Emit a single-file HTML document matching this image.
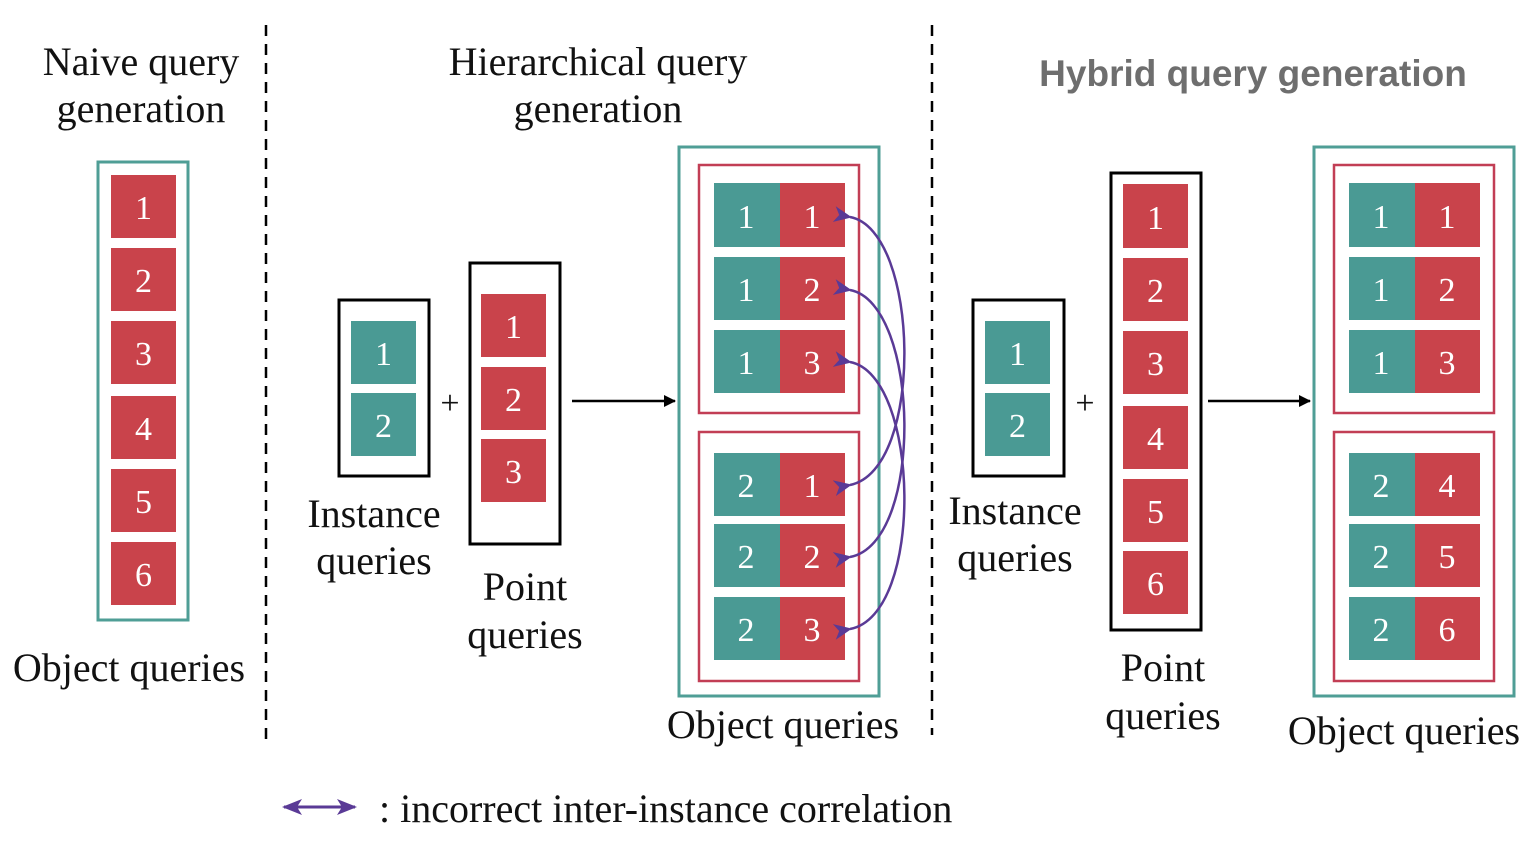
<!DOCTYPE html>
<html><head><meta charset="utf-8"><style>
html,body{margin:0;padding:0;background:#fff;}
svg{display:block;}
.t{font-family:"Liberation Serif",serif;font-size:40px;fill:#111;}
.n{font-family:"Liberation Serif",serif;font-size:34px;fill:#fff;text-anchor:middle;}
</style></head><body>
<svg width="1534" height="844" viewBox="0 0 1534 844" xmlns="http://www.w3.org/2000/svg">
<defs>
<marker id="ah" markerWidth="12" markerHeight="12" refX="11" refY="6" orient="auto" markerUnits="userSpaceOnUse"><path d="M0,0 L12,6 L0,12 Z" fill="#000"/></marker>
<marker id="ap" markerWidth="18" markerHeight="16" refX="2" refY="8" orient="auto-start-reverse" markerUnits="userSpaceOnUse"><path d="M18,0 L0,8 L18,16 L13,8 Z" fill="#5a3a96"/></marker>
<marker id="aq" markerWidth="20" markerHeight="16" refX="18" refY="8" orient="auto-start-reverse" markerUnits="userSpaceOnUse"><path d="M0,0 L20,8 L0,16 L5,8 Z" fill="#5a3a96"/></marker>
</defs>

<line x1="266" y1="25" x2="266" y2="745" stroke="#000" stroke-width="2.5" stroke-dasharray="11,8"/>
<line x1="932" y1="25" x2="932" y2="735" stroke="#000" stroke-width="2.5" stroke-dasharray="11,8"/>

<text class="t" x="141" y="75" text-anchor="middle">Naive query</text>
<text class="t" x="141" y="122" text-anchor="middle">generation</text>
<text class="t" x="598" y="75" text-anchor="middle">Hierarchical query</text>
<text class="t" x="598" y="122" text-anchor="middle">generation</text>
<text x="1253" y="86" text-anchor="middle" style="font-family:'Liberation Sans',sans-serif;font-weight:bold;font-size:37px;fill:#6e6e6e">Hybrid query generation</text>

<rect x="98" y="162" width="90" height="458" fill="none" stroke="#4f9e96" stroke-width="3"/>
<g fill="#c9434b">
<rect x="111" y="175" width="65" height="63"/><rect x="111" y="248" width="65" height="63"/>
<rect x="111" y="321" width="65" height="63"/><rect x="111" y="396" width="65" height="63"/>
<rect x="111" y="469" width="65" height="63"/><rect x="111" y="542" width="65" height="63"/>
</g>
<text class="n" x="143.5" y="219">1</text><text class="n" x="143.5" y="292">2</text>
<text class="n" x="143.5" y="365">3</text><text class="n" x="143.5" y="440">4</text>
<text class="n" x="143.5" y="513">5</text><text class="n" x="143.5" y="586">6</text>
<text class="t" x="129" y="681" text-anchor="middle">Object queries</text>

<rect x="339" y="300" width="90" height="176" fill="none" stroke="#000" stroke-width="3"/>
<rect x="351" y="321" width="65" height="63" fill="#4a9a94"/><rect x="351" y="393" width="65" height="63" fill="#4a9a94"/>
<text class="n" x="383.5" y="365">1</text><text class="n" x="383.5" y="437">2</text>
<text class="t" x="450" y="414" text-anchor="middle" style="font-size:34px">+</text>
<text class="t" x="374" y="527" text-anchor="middle">Instance</text>
<text class="t" x="374" y="574" text-anchor="middle">queries</text>
<rect x="470" y="263" width="90" height="281" fill="none" stroke="#000" stroke-width="3"/>
<rect x="481" y="294" width="65" height="63" fill="#c9434b"/><rect x="481" y="367" width="65" height="63" fill="#c9434b"/><rect x="481" y="439" width="65" height="63" fill="#c9434b"/>
<text class="n" x="513.5" y="338">1</text><text class="n" x="513.5" y="411">2</text><text class="n" x="513.5" y="483">3</text>
<text class="t" x="525" y="600" text-anchor="middle">Point</text>
<text class="t" x="525" y="648" text-anchor="middle">queries</text>
<line x1="572" y1="401" x2="675" y2="401" stroke="#000" stroke-width="2.5" marker-end="url(#ah)"/>

<rect x="679" y="147" width="200" height="549" fill="none" stroke="#4f9e96" stroke-width="3"/>
<rect x="699" y="165" width="160" height="248" fill="none" stroke="#c23e55" stroke-width="2.5"/>
<rect x="699" y="432" width="160" height="249" fill="none" stroke="#c23e55" stroke-width="2.5"/>
<g>
<rect x="714" y="183" width="66" height="64" fill="#4a9a94"/><rect x="780" y="183" width="65" height="64" fill="#c9434b"/>
<rect x="714" y="257" width="66" height="63" fill="#4a9a94"/><rect x="780" y="257" width="65" height="63" fill="#c9434b"/>
<rect x="714" y="330" width="66" height="63" fill="#4a9a94"/><rect x="780" y="330" width="65" height="63" fill="#c9434b"/>
<rect x="714" y="453" width="66" height="63" fill="#4a9a94"/><rect x="780" y="453" width="65" height="63" fill="#c9434b"/>
<rect x="714" y="524" width="66" height="63" fill="#4a9a94"/><rect x="780" y="524" width="65" height="63" fill="#c9434b"/>
<rect x="714" y="597" width="66" height="63" fill="#4a9a94"/><rect x="780" y="597" width="65" height="63" fill="#c9434b"/>
</g>
<text class="n" x="746" y="228">1</text><text class="n" x="812" y="228">1</text>
<text class="n" x="746" y="301">1</text><text class="n" x="812" y="301">2</text>
<text class="n" x="746" y="374">1</text><text class="n" x="812" y="374">3</text>
<text class="n" x="746" y="497">2</text><text class="n" x="812" y="497">1</text>
<text class="n" x="746" y="568">2</text><text class="n" x="812" y="568">2</text>
<text class="n" x="746" y="641">2</text><text class="n" x="812" y="641">3</text>
<g fill="none" stroke="#5a3a96" stroke-width="2.5">
<path d="M850,217 C920,230 925,470 850,485" marker-start="url(#ap)" marker-end="url(#ap)"/>
<path d="M850,290 C920,303 925,543 850,557" marker-start="url(#ap)" marker-end="url(#ap)"/>
<path d="M850,362 C920,375 925,615 850,629" marker-start="url(#ap)" marker-end="url(#ap)"/>
</g>
<text class="t" x="783" y="738" text-anchor="middle">Object queries</text>

<rect x="973" y="300" width="91" height="176" fill="none" stroke="#000" stroke-width="3"/>
<rect x="985" y="321" width="65" height="63" fill="#4a9a94"/><rect x="985" y="393" width="65" height="63" fill="#4a9a94"/>
<text class="n" x="1017.5" y="365">1</text><text class="n" x="1017.5" y="437">2</text>
<text class="t" x="1085" y="414" text-anchor="middle" style="font-size:34px">+</text>
<text class="t" x="1015" y="524" text-anchor="middle">Instance</text>
<text class="t" x="1015" y="571" text-anchor="middle">queries</text>
<rect x="1111" y="173" width="90" height="457" fill="none" stroke="#000" stroke-width="3"/>
<g fill="#c9434b">
<rect x="1123" y="184" width="65" height="64"/><rect x="1123" y="258" width="65" height="63"/>
<rect x="1123" y="331" width="65" height="63"/><rect x="1123" y="406" width="65" height="63"/>
<rect x="1123" y="479" width="65" height="63"/><rect x="1123" y="551" width="65" height="63"/>
</g>
<text class="n" x="1155.5" y="229">1</text><text class="n" x="1155.5" y="302">2</text>
<text class="n" x="1155.5" y="375">3</text><text class="n" x="1155.5" y="450">4</text>
<text class="n" x="1155.5" y="523">5</text><text class="n" x="1155.5" y="595">6</text>
<text class="t" x="1163" y="681" text-anchor="middle">Point</text>
<text class="t" x="1163" y="729" text-anchor="middle">queries</text>
<line x1="1208" y1="401" x2="1310" y2="401" stroke="#000" stroke-width="2.5" marker-end="url(#ah)"/>

<rect x="1314" y="147" width="200" height="549" fill="none" stroke="#4f9e96" stroke-width="3"/>
<rect x="1334" y="165" width="160" height="248" fill="none" stroke="#c23e55" stroke-width="2.5"/>
<rect x="1334" y="432" width="160" height="249" fill="none" stroke="#c23e55" stroke-width="2.5"/>
<g>
<rect x="1349" y="183" width="66" height="64" fill="#4a9a94"/><rect x="1415" y="183" width="65" height="64" fill="#c9434b"/>
<rect x="1349" y="257" width="66" height="63" fill="#4a9a94"/><rect x="1415" y="257" width="65" height="63" fill="#c9434b"/>
<rect x="1349" y="330" width="66" height="63" fill="#4a9a94"/><rect x="1415" y="330" width="65" height="63" fill="#c9434b"/>
<rect x="1349" y="453" width="66" height="63" fill="#4a9a94"/><rect x="1415" y="453" width="65" height="63" fill="#c9434b"/>
<rect x="1349" y="524" width="66" height="63" fill="#4a9a94"/><rect x="1415" y="524" width="65" height="63" fill="#c9434b"/>
<rect x="1349" y="597" width="66" height="63" fill="#4a9a94"/><rect x="1415" y="597" width="65" height="63" fill="#c9434b"/>
</g>
<text class="n" x="1381" y="228">1</text><text class="n" x="1447" y="228">1</text>
<text class="n" x="1381" y="301">1</text><text class="n" x="1447" y="301">2</text>
<text class="n" x="1381" y="374">1</text><text class="n" x="1447" y="374">3</text>
<text class="n" x="1381" y="497">2</text><text class="n" x="1447" y="497">4</text>
<text class="n" x="1381" y="568">2</text><text class="n" x="1447" y="568">5</text>
<text class="n" x="1381" y="641">2</text><text class="n" x="1447" y="641">6</text>
<text class="t" x="1404" y="744" text-anchor="middle">Object queries</text>

<line x1="284" y1="807" x2="355" y2="807" stroke="#5a3a96" stroke-width="3" marker-start="url(#aq)" marker-end="url(#aq)"/>
<text class="t" x="379" y="822">: incorrect inter-instance correlation</text>
</svg>
</body></html>
